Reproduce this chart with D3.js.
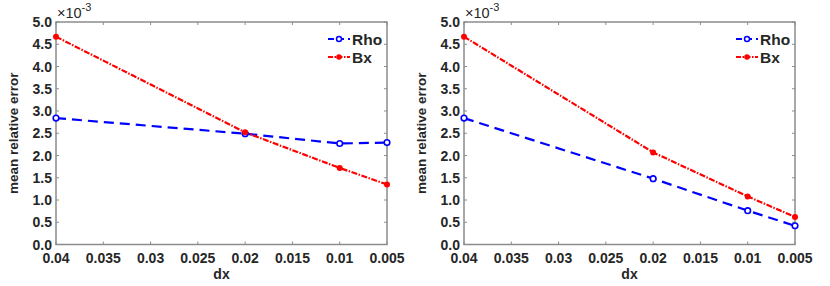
<!DOCTYPE html>
<html><head><meta charset="utf-8">
<script src="https://cdn.jsdelivr.net/npm/d3@7"></script>
<style>
body{margin:0;background:#fff;}
text{font-family:"Liberation Sans",Arial,sans-serif;}
</style></head>
<body><svg id="c" width="830" height="286"></svg>
<script>
const dx = [0.04, 0.02, 0.01, 0.005];
const rhoLeft = [2.84, 2.49, 2.27, 2.29];
const bxLeft = [4.67, 2.52, 1.72, 1.35];
const rhoRight = [2.84, 1.48, 0.76, 0.42];
const bxRight = [4.67, 2.07, 1.08, 0.62];
const xTicks = [0.04, 0.035, 0.03, 0.025, 0.02, 0.015, 0.01, 0.005];
const yTicks = [0, 0.5, 1, 1.5, 2, 2.5, 3, 3.5, 4, 4.5, 5];
const seriesNames = ["Rho", "Bx"];

const svg = d3.select("#c");
const axisCol = "#8c8c8c", textCol = "#262626";

function panel(x0, x1, rho, bx) {
  const x = d3.scaleLinear().domain([0.04, 0.005]).range([x0, x1]);
  const y = d3.scaleLinear().domain([0, 5]).range([244.5, 22]);
  const g = svg.append("g");
  g.append("rect").attr("x", x0).attr("y", y(5)).attr("width", x1 - x0).attr("height", y(0) - y(5))
    .attr("fill", "none").attr("stroke", axisCol).attr("stroke-width", 1.5);
  xTicks.forEach(t => {
    g.append("line").attr("x1", x(t)).attr("x2", x(t)).attr("y1", y(0)).attr("y2", y(0) - 3).attr("stroke", axisCol);
    g.append("line").attr("x1", x(t)).attr("x2", x(t)).attr("y1", y(5)).attr("y2", y(5) + 3).attr("stroke", axisCol);
    g.append("text").attr("x", x(t)).attr("y", y(0) + 18).attr("text-anchor", "middle")
      .attr("font-size", 14).attr("font-weight", "bold").attr("fill", textCol).text(String(t));
  });
  yTicks.forEach(t => {
    g.append("line").attr("x1", x0).attr("x2", x0 + 3).attr("y1", y(t)).attr("y2", y(t)).attr("stroke", axisCol);
    g.append("line").attr("x1", x1).attr("x2", x1 - 3).attr("y1", y(t)).attr("y2", y(t)).attr("stroke", axisCol);
    g.append("text").attr("x", x0 - 4).attr("y", y(t) + 5).attr("text-anchor", "end")
      .attr("font-size", 14).attr("font-weight", "bold").attr("fill", textCol).text(t.toFixed(1));
  });
  const ex = g.append("text").attr("x", x0 + 1).attr("y", 18).attr("font-size", 14.5).attr("fill", textCol);
  ex.append("tspan").text("\u00d710");
  ex.append("tspan").attr("dy", -7).attr("font-size", 11).text("-3");
  g.append("text").attr("transform", `translate(${x0 - 38},${(y(0) + y(5)) / 2}) rotate(-90)`)
    .attr("text-anchor", "middle").attr("font-size", 13.5).attr("font-weight", "bold").attr("fill", textCol)
    .text("mean relative error");
  g.append("text").attr("x", (x0 + x1) / 2).attr("y", 279).attr("text-anchor", "middle")
    .attr("font-size", 14).attr("font-weight", "bold").attr("fill", textCol).text("dx");

  const line = d3.line().x((d, i) => x(dx[i])).y(d => y(d));
  g.append("path").attr("d", line(rho)).attr("fill", "none").attr("stroke", "#0000ff")
    .attr("stroke-width", 2.2).attr("stroke-dasharray", "10,6");
  g.append("path").attr("d", line(bx)).attr("fill", "none").attr("stroke", "#ff0000")
    .attr("stroke-width", 2.2).attr("stroke-dasharray", "6,1.5,1.5,1.5");
  rho.forEach((v, i) => g.append("circle").attr("cx", x(dx[i])).attr("cy", y(v)).attr("r", 2.8)
    .attr("fill", "#fff").attr("stroke", "#0000ff").attr("stroke-width", 1.6));
  bx.forEach((v, i) => g.append("circle").attr("cx", x(dx[i])).attr("cy", y(v)).attr("r", 3)
    .attr("fill", "#ff0000"));

  const lx = x1 - 59;
  [[0, "#0000ff", "6,4", true], [1, "#ff0000", "5,1.5,1.5,1.5", false]].forEach(([k, c, da, open]) => {
    const ly = 39 + k * 18;
    g.append("line").attr("x1", lx).attr("x2", lx + 22).attr("y1", ly).attr("y2", ly)
      .attr("stroke", c).attr("stroke-width", 2.2).attr("stroke-dasharray", da);
    g.append("circle").attr("cx", lx + 11).attr("cy", ly).attr("r", open ? 2.5 : 2.8)
      .attr("fill", open ? "#fff" : c).attr("stroke", c).attr("stroke-width", open ? 1.5 : 0);
    g.append("text").attr("x", lx + 24).attr("y", ly + 5.5).attr("font-size", 15.5).attr("font-weight", "bold")
      .attr("fill", textCol).text(seriesNames[k]);
  });
}
panel(56, 387, rhoLeft, bxLeft);
panel(464, 795, rhoRight, bxRight);
</script></body></html>
